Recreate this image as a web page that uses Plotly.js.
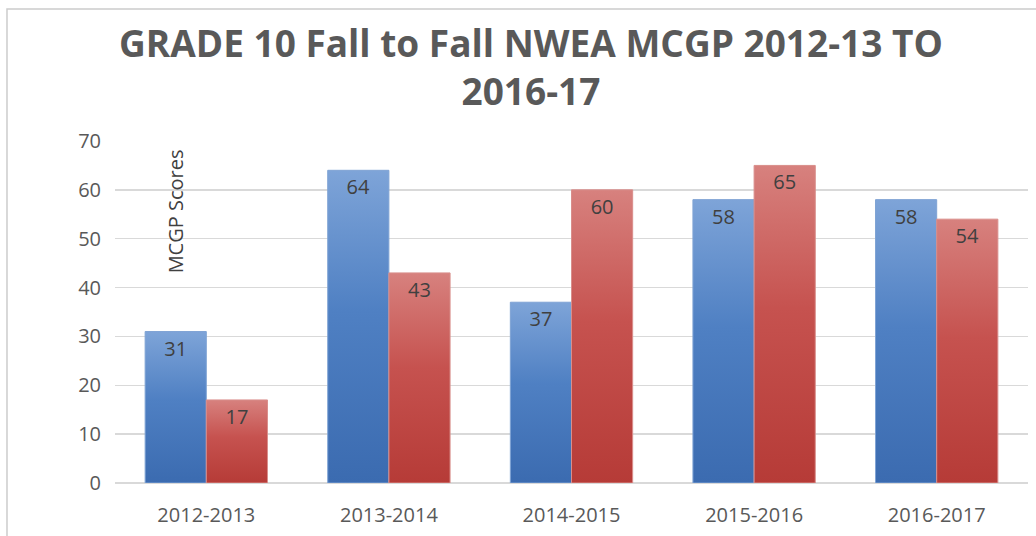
<!DOCTYPE html>
<html>
<head>
<meta charset="utf-8">
<script src="https://cdn.plot.ly/plotly-3.0.1.min.js"></script>
<style>html,body{margin:0;padding:0;background:#fff;}#chart{width:1036px;height:536px;}</style>
</head>
<body>
<div id="chart"></div>
<script>
const categories = ['2012-2013', '2013-2014', '2014-2015', '2015-2016', '2016-2017'];
const seriesBlue = [31, 64, 37, 58, 58];
const seriesRed = [17, 43, 60, 65, 54];
const yTicks = [0, 10, 20, 30, 40, 50, 60, 70];

const FONT = 'Open Sans, Liberation Sans, sans-serif';
const labelFont = {family: FONT, size: 20, color: '#404040'};

const traces = [
  {type: 'bar', x: categories, y: seriesBlue, name: 'Blue', text: seriesBlue.map(String),
   textposition: 'inside', insidetextanchor: 'end', textangle: 0, textfont: labelFont,
   marker: {color: '#4f81bd', line: {color: '#7fa3d4', width: 1}}, hoverinfo: 'none', cliponaxis: false},
  {type: 'bar', x: categories, y: seriesRed, name: 'Red', text: seriesRed.map(String),
   textposition: 'inside', insidetextanchor: 'end', textangle: 0, textfont: labelFont,
   marker: {color: '#c0504d', line: {color: '#d98e8b', width: 1}}, hoverinfo: 'none', cliponaxis: false}
];

const layout = {
  width: 1036, height: 536,
  margin: {l: 115, r: 8, t: 141, b: 53},
  paper_bgcolor: '#ffffff', plot_bgcolor: '#ffffff',
  showlegend: false,
  barmode: 'group', bargap: 0.33, bargroupgap: 0,
  font: {family: FONT, color: '#595959'},
  title: {
    text: 'GRADE 10 Fall to Fall NWEA MCGP 2012-13 TO<br>2016-17',
    font: {family: FONT, size: 37, color: '#595959', weight: 'bold'},
    x: 0.5125, xref: 'container', xanchor: 'center',
    y: 0.893, yref: 'container', yanchor: 'top'
  },
  xaxis: {
    type: 'category', showgrid: false, zeroline: false, showline: false,
    ticks: '', tickfont: {size: 20, color: '#595959'}, ticklabelstandoff: 18
  },
  yaxis: {
    range: [0, 70], tickvals: yTicks, ticktext: yTicks.map(String),
    showgrid: true, gridcolor: '#d9d9d9', gridwidth: 1.5,
    zeroline: true, zerolinecolor: '#d9d9d9', zerolinewidth: 1.5,
    showline: false, ticks: '', tickfont: {size: 20, color: '#595959'}, ticklabelstandoff: 13
  },
  annotations: [{
    text: 'MCGP Scores', textangle: -90, showarrow: false,
    xref: 'paper', yref: 'paper', x: 0.066, y: 0.795,
    xanchor: 'center', yanchor: 'middle',
    font: {size: 20, color: '#404040'}
  }],
  shapes: [{
    type: 'rect', xref: 'paper', yref: 'paper',
    x0: -0.1183, x1: 1.2, y0: -0.4, y1: 1.386,
    line: {color: '#cccccc', width: 1.5}, fillcolor: 'rgba(0,0,0,0)', layer: 'below'
  }]
};

Plotly.newPlot('chart', traces, layout, {staticPlot: true}).then(function (gd) {
  const svg = gd.querySelector('svg.main-svg');
  const ns = 'http://www.w3.org/2000/svg';
  let defs = svg.querySelector('defs');
  if (!defs) { defs = document.createElementNS(ns, 'defs'); svg.insertBefore(defs, svg.firstChild); }
  const grads = [
    ['gradBlue', [['0', '#7ea4d8'], ['0.45', '#4f80c3'], ['1', '#3b6bb0']]],
    ['gradRed', [['0', '#d7817e'], ['0.45', '#c6524f'], ['1', '#b63b37']]]
  ];
  grads.forEach(function (g) {
    const lg = document.createElementNS(ns, 'linearGradient');
    lg.setAttribute('id', g[0]);
    lg.setAttribute('x1', '0'); lg.setAttribute('y1', '0');
    lg.setAttribute('x2', '0'); lg.setAttribute('y2', '1');
    g[1].forEach(function (s) {
      const st = document.createElementNS(ns, 'stop');
      st.setAttribute('offset', s[0]); st.setAttribute('stop-color', s[1]);
      lg.appendChild(st);
    });
    defs.appendChild(lg);
  });
  const bars = gd.querySelectorAll('.barlayer .trace.bars');
  bars.forEach(function (tr, i) {
    tr.querySelectorAll('path').forEach(function (p) {
      p.style.fill = 'url(#' + grads[i][0] + ')';
    });
  });
});
</script>
</body>
</html>
